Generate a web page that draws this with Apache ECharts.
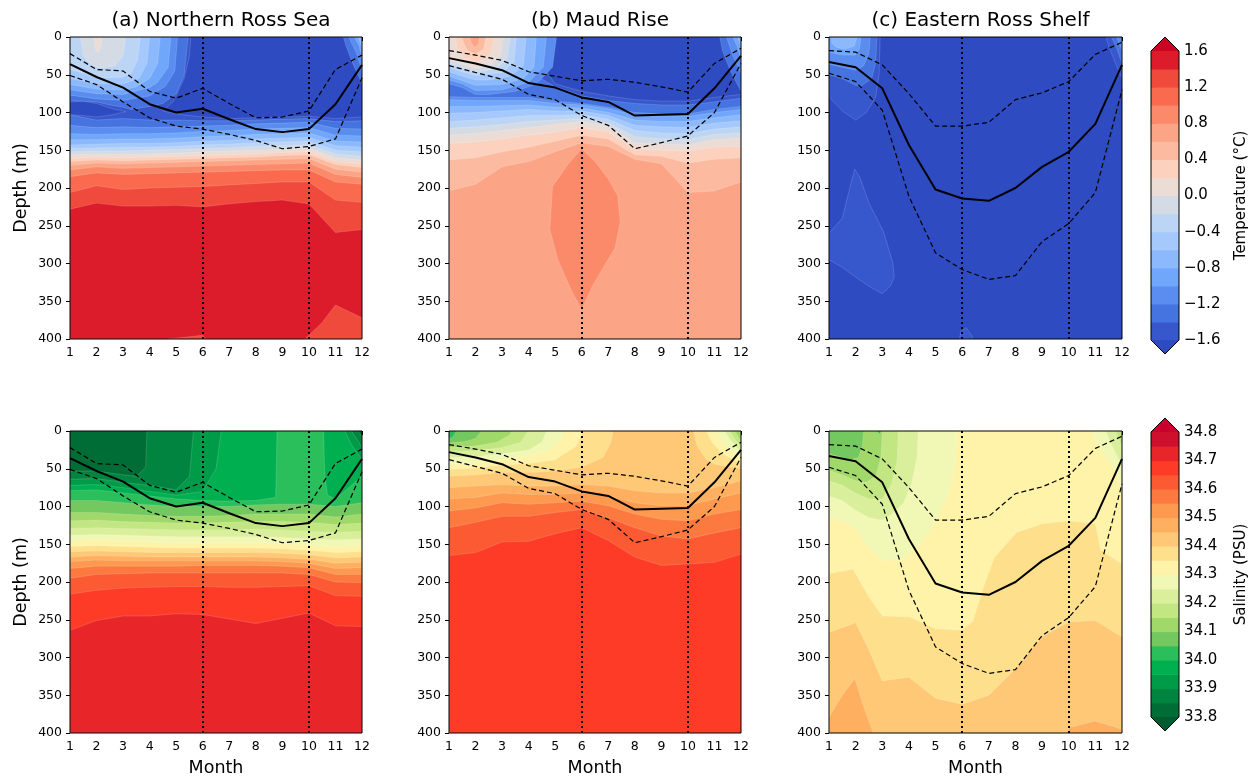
<!DOCTYPE html>
<html>
<head>
<meta charset="utf-8">
<script src="https://cdn.jsdelivr.net/npm/echarts/dist/echarts.min.js"></script>
<style>
  html, body { margin: 0; padding: 0; background: #ffffff; }
  #chart { width: 1249px; height: 778px; }
</style>
</head>
<body>
<div id="chart"></div>
<script>
// ---------------------------------------------------------------------------
// Axes and colour scales
// ---------------------------------------------------------------------------
const months = [1, 2, 3, 4, 5, 6, 7, 8, 9, 10, 11, 12];
const depthTicks = [0, 50, 100, 150, 200, 250, 300, 350, 400];

const tempLevels = [-1.6, -1.4, -1.2, -1.0, -0.8, -0.6, -0.4, -0.2, 0.0, 0.2, 0.4, 0.6, 0.8, 1.0, 1.2, 1.4, 1.6];
// under, 16 bands, over
const tempColors = ['#2e4bc2', '#3757cc', '#4573df', '#5a8def', '#70a7fa', '#8cb9fc', '#a5c9fc', '#bdd5f5',
  '#d4dbe4', '#ecdcd6', '#fcd1be', '#fcbba1', '#fca486', '#fb8a6a', '#fa6a4e', '#ef4a3c', '#dd1c2b', '#cc0423'];

const salLevels = [33.8, 33.85, 33.9, 33.95, 34.0, 34.05, 34.1, 34.15, 34.2, 34.25, 34.3,
  34.35, 34.4, 34.45, 34.5, 34.55, 34.6, 34.65, 34.7, 34.75, 34.8];
// under, 20 bands, over
const salColors = ['#005b2e', '#006d36', '#00843f', '#009b49', '#00b050', '#2bbf5c', '#74c860', '#a0d86a',
  '#c2e681', '#d9ef9b', '#f1f8b5', '#fef3a8', '#fee08c', '#fec877', '#feb060', '#fd9a50', '#fc7a40',
  '#fc5a32', '#fd3b27', '#e8262a', '#cf102c', '#c8002b'];

// ---------------------------------------------------------------------------
// Mixed-layer depth (m): monthly mean and upper / lower spread
// ---------------------------------------------------------------------------
const mldNRS      = [36, 53, 67, 89, 100, 95, 109, 122, 126, 122, 89, 37];
const mldNRSUpper = [22, 43, 45, 72, 81, 68, 88, 107, 106, 98, 43, 24];
const mldNRSLower = [51, 63, 86, 107, 118, 122, 129, 137, 148, 145, 135, 54];

const mldMR       = [28, 35, 44, 61, 67, 80, 86, 104, 103, 102, 68, 25];
const mldMRUpper  = [18, 24, 31, 46, 52, 58, 56, 60, 66, 73, 35, 15];
const mldMRLower  = [38, 47, 56, 76, 83, 104, 117, 148, 140, 131, 100, 35];

const mldERS      = [33, 40, 68, 143, 202, 214, 217, 200, 172, 152, 115, 37];
const mldERSUpper = [18, 20, 37, 75, 118, 118, 113, 83, 74, 59, 23, 7];
const mldERSLower = [48, 59, 97, 211, 286, 308, 321, 316, 271, 247, 206, 70];

const markerMonths = [6, 10];

// ---------------------------------------------------------------------------
// Filled contour regions (month, depth). Painted in order:
//   base  : value of the background band
//   ge    : region with value >= level   (deep: isoline depth per month, filled to 400 m)
//   lt    : region with value <  level
// ---------------------------------------------------------------------------
const tempNRS = [
  { base: -1.5 },
  { lt: -1.6, poly: [[5.55,0],[12,0],[12,106],[11,108],[10,105],[9,106],[8,107],[7,108],[6,106],[5,102],[4.5,98],[4.9,85],[5.3,55],[5.5,25]] },
  { lt: -1.6, poly: [[1,86],[1.5,85],[2,88],[2.6,95],[3.1,99],[2.6,103],[2,106],[1.5,104],[1,103]] },
  { ge: -1.4, deep: [103,110,108,110,110,111,111,110,109,108,112,111] },
  { ge: -1.2, deep: [117,120,119,120,119,118,117,115,114,113,121,122] },
  { ge: -1.0, deep: [128,129,128,128,127,125,124,122,121,120,130,131] },
  { ge: -0.8, deep: [136,136,135,135,134,132,131,129,128,127,138,139] },
  { ge: -0.6, deep: [143,142,141,141,140,138,137,135,134,133,144,146] },
  { ge: -0.4, deep: [147,147,146,146,145,143,142,140,139,138,150,152] },
  { ge: -0.2, deep: [152,151,151,150,149,148,147,145,144,143,155,158] },
  { ge: 0.0,  deep: [156,155,155,155,154,152,151,150,149,147,160,163] },
  { ge: 0.2,  deep: [161,159,160,159,158,157,156,155,153,152,165,168] },
  { ge: 0.4,  deep: [165,163,164,163,162,161,160,159,157,156,169,173] },
  { ge: 0.6,  deep: [170,167,168,167,166,165,164,163,162,161,175,179] },
  { ge: 0.8,  deep: [176,172,174,173,172,171,170,169,168,167,182,186] },
  { ge: 1.0,  deep: [185,180,182,181,180,179,178,177,176,176,192,195] },
  { ge: 1.2,  deep: [206,197,202,200,199,198,196,194,192,192,216,219] },
  { ge: 1.4,  deep: [228,220,224,224,223,225,221,218,216,221,259,255] },
  { ge: -1.4, poly: [[1,0],[5.45,0],[5.3,50],[5,75],[4.5,88],[4,92],[3.3,96],[3,93],[2.5,90],[2,86],[1,84]] },
  { ge: -1.2, poly: [[1,0],[5.05,0],[4.95,45],[4.6,65],[4,78],[3,84],[2,82],[1,77]] },
  { ge: -1.0, poly: [[1,0],[4.8,0],[4.7,40],[4.3,60],[4,67],[3,76],[2,75],[1,70]] },
  { ge: -0.8, poly: [[1,0],[4.4,0],[4.3,35],[4,55],[3.5,66],[3,70],[2,69],[1,63]] },
  { ge: -0.6, poly: [[1,0],[4,0],[3.9,35],[3.6,55],[3,62],[2,62],[1,55]] },
  { ge: -0.4, poly: [[1,0],[3.65,0],[3.55,30],[3.3,48],[3,53],[2.5,54],[2,53],[1.5,48],[1,43]] },
  { ge: -0.2, poly: [[1.4,0],[3.1,0],[3,25],[2.7,38],[2.2,41],[1.8,37],[1.5,25]] },
  { ge: 0.0,  poly: [[1.9,0],[2.22,0],[2.15,15],[2.05,21],[1.95,15]] },
  { ge: -1.4, poly: [[11.3,0],[12,0],[12,62],[11.65,35],[11.4,12]] },
  { ge: -1.2, poly: [[11.5,0],[12,0],[12,45],[11.8,22]] },
  { ge: -1.0, poly: [[11.7,0],[12,0],[12,28],[11.9,12]] },
  { ge: -0.8, poly: [[11.85,0],[12,0],[12,14]] },
  { lt: 1.4,  poly: [[9.85,400],[10.5,378],[11,355],[12,372],[12,400]] },
  { lt: 1.4,  poly: [[4.7,400],[5.5,397],[6,395],[6.1,400]] }
];

const tempMR = [
  { base: -1.5 },
  { lt: -1.6, poly: [[4.4,0],[12,0],[12,76],[11,80],[10,85],[9,85],[8,83],[7,78],[6,72],[5,62],[4.6,42],[4.45,20]] },
  { ge: -1.4, deep: [0,0,0,45,66,78,84,88,90,90,86,81] },
  { ge: -1.2, deep: [79,80,80,80,85,88,93,100,102,102,96,92] },
  { ge: -1.0, deep: [83,84,84,84,88,90,95,103,105,105,100,96] },
  { ge: -0.8, deep: [92,92,91,90,93,94,100,110,112,112,107,103] },
  { ge: -0.6, deep: [101,100,98,96,98,98,104,117,119,120,114,111] },
  { ge: -0.4, deep: [112,110,107,104,104,103,109,124,127,128,122,119] },
  { ge: -0.2, deep: [121,119,116,112,110,108,114,132,135,136,129,127] },
  { ge: 0.0,  deep: [130,128,124,120,116,112,118,140,142,143,136,134] },
  { ge: 0.2,  deep: [141,139,135,130,126,120,126,148,150,151,146,145] },
  { ge: 0.4,  deep: [163,160,152,146,138,130,135,156,158,167,162,160] },
  { ge: 0.6,  deep: [204,195,172,165,152,140,145,162,168,206,204,192] },
  { ge: 0.8,  poly: [[6,148],[5.5,168],[4.9,198],[4.8,255],[5.1,295],[5.6,335],[6,361],[6.4,330],[6.9,300],[7.25,280],[7.45,245],[7.35,210],[7,188],[6.5,165]] },
  { ge: -1.2, poly: [[1,0],[5.05,0],[4.9,40],[4.3,62],[3.5,72],[2.5,76],[2,76],[1.5,67],[1,62]] },
  { ge: -1.0, poly: [[1,0],[4.67,0],[4.55,40],[4,60],[3,70],[2,71],[1.5,62],[1,57]] },
  { ge: -0.8, poly: [[1,0],[4.29,0],[4.2,40],[3.8,55],[3,63],[2,64],[1.5,58],[1,52]] },
  { ge: -0.6, poly: [[1,0],[3.91,0],[3.8,38],[3.3,52],[2.5,57],[2,57],[1.5,52],[1,46]] },
  { ge: -0.4, poly: [[1,0],[3.54,0],[3.45,33],[3,47],[2,51],[1.5,46],[1,40]] },
  { ge: -0.2, poly: [[1,0],[3.3,0],[3.2,28],[2.8,42],[2,47],[1.5,41],[1,35]] },
  { ge: 0.0,  poly: [[1,0],[3.03,0],[2.95,24],[2.6,36],[2,42],[1.5,36],[1,30]] },
  { ge: 0.2,  poly: [[1.25,0],[2.7,0],[2.6,20],[2.3,30],[2,33],[1.6,28],[1.3,15]] },
  { ge: 0.4,  poly: [[1.5,0],[2.4,0],[2.3,16],[2,23],[1.7,18],[1.55,8]] },
  { ge: 0.6,  poly: [[1.78,0],[2.16,0],[2.1,10],[1.97,14],[1.84,8]] },
  { ge: -1.4, poly: [[11.2,0],[12,0],[12,72],[11.6,45],[11.3,18]] },
  { ge: -1.2, poly: [[11.45,0],[12,0],[12,48],[11.7,25]] },
  { ge: -1.0, poly: [[11.7,0],[12,0],[12,28],[11.85,12]] },
  { ge: -0.8, poly: [[11.88,0],[12,0],[12,12]] }
];

const tempERS = [
  { base: -1.7 },
  { ge: -1.6, poly: [[1,260],[1.5,240],[1.85,190],[1.97,175],[2.15,185],[2.5,220],[3.05,258],[3.4,300],[3.45,318],[3.3,330],[3,340],[2.5,330],[2,318],[1.5,305],[1,295]] },
  { ge: -1.6, poly: [[5.9,400],[5.95,390],[6.15,385],[6.35,395],[6.4,400]] },
  { ge: -1.6, poly: [[1,0],[2.92,0],[2.88,50],[2.75,80],[2.4,100],[2,110],[1.5,98],[1,79]] },
  { ge: -1.4, poly: [[1,0],[2.8,0],[2.75,35],[2.6,55],[2.2,65],[2,64],[1.5,55],[1,50]] },
  { ge: -1.2, poly: [[1,0],[2.55,0],[2.5,22],[2.3,38],[2,44],[1.5,40],[1,36]] },
  { ge: -1.0, poly: [[1,0],[2.2,0],[2.15,15],[2,24],[1.5,24],[1,20]] },
  { ge: -0.8, poly: [[1.1,0],[2.05,0],[1.95,12],[1.6,16],[1.3,14],[1.1,8]] },
  { ge: -1.6, poly: [[11.4,0],[12,0],[12,55],[11.7,30],[11.5,12]] },
  { ge: -1.4, poly: [[11.6,0],[12,0],[12,35],[11.8,15]] },
  { ge: -1.2, poly: [[11.8,0],[12,0],[12,18]] }
];

const salNRS = [
  { base: 33.825 },
  { ge: 33.85, deep: [[1,53],[2,53],[3,58],[3.5,60],[3.85,48],[3.9,0],[11.85,0],[12,8]] },
  { ge: 33.9,  deep: [[1,64],[2,63],[3,68],[4,72],[5,78],[5.5,60],[5.65,0],[11.6,0],[11.8,10],[12,22]] },
  { ge: 33.95, deep: [[1,72],[2,71],[3,75],[4,80],[5,85],[6,80],[6.5,50],[6.7,0],[11.35,0],[11.6,18],[12,38]] },
  { ge: 34.0,  deep: [[1,79],[2,78],[3,82],[4,86],[5,90],[6,92],[7,93],[8,92],[8.75,88],[8.8,0],[10.55,0],[10.6,60],[10.7,85],[11,90],[12,60]] },
  { ge: 34.05, deep: [92,92,95,98,100,100,100,98,97,97,100,95] },
  { ge: 34.1,  deep: [108,108,110,112,113,113,112,110,110,110,114,110] },
  { ge: 34.15, deep: [119,118,120,121,122,122,121,120,120,121,124,122] },
  { ge: 34.2,  deep: [129,128,129,130,131,131,131,130,131,133,134,133] },
  { ge: 34.25, deep: [138,137,138,139,140,140,140,140,141,143,144,143] },
  { ge: 34.3,  deep: [146,145,146,147,148,148,148,148,149,151,153,152] },
  { ge: 34.35, deep: [153,152,153,154,155,155,155,155,156,158,161,160] },
  { ge: 34.4,  deep: [160,159,160,161,161,161,161,161,162,164,168,167] },
  { ge: 34.45, deep: [167,165,166,167,167,167,167,167,168,170,175,174] },
  { ge: 34.5,  deep: [173,171,172,172,172,172,172,172,173,175,182,181] },
  { ge: 34.55, deep: [182,179,179,179,179,178,178,178,179,181,190,190] },
  { ge: 34.6,  deep: [195,190,189,188,188,188,188,188,188,190,200,201] },
  { ge: 34.65, deep: [216,211,208,207,206,206,207,207,206,205,218,219] },
  { ge: 34.7,  deep: [264,251,245,245,242,243,249,255,248,241,258,259] }
];

const salMR = [
  { base: 34.025 },
  { ge: 34.05, deep: [[1,10],[1.15,8],[1.28,0],[12,0]] },
  { ge: 34.1,  deep: [[1,16],[1.6,14],[2,10],[2.22,0],[11.96,0],[12,3]] },
  { ge: 34.15, deep: [[1,22],[2,20],[2.8,15],[3.3,5],[3.35,0],[11.77,0],[11.9,8],[12,12]] },
  { ge: 34.2,  deep: [[1,27],[2,26],[3,22],[3.7,15],[3.98,0],[11.58,0],[11.75,10],[12,20]] },
  { ge: 34.25, deep: [[1,35],[2,34],[3,30],[4,25],[4.5,15],[4.67,0],[11.39,0],[11.6,12],[12,28]] },
  { ge: 34.3,  deep: [[1,44],[2,42],[3,38],[4,33],[4.8,25],[5.25,10],[5.3,0],[11.07,0],[11.3,15],[11.7,28],[12,36]] },
  { ge: 34.35, deep: [[1,51],[2,49],[3,45],[4,43],[5,38],[5.8,20],[6.05,0],[10.7,0],[10.9,15],[11.3,30],[12,43]] },
  { ge: 34.4,  deep: [[1,60],[2,58],[3,55],[4,55],[5,53],[6,48],[6.8,35],[7.1,15],[7.18,0],[10.2,0],[10.35,20],[10.7,38],[11,44],[12,50]] },
  { ge: 34.45, deep: [75,73,71,73,73,71,73,79,82,82,75,66] },
  { ge: 34.5,  deep: [90,88,82,84,84,82,86,95,99,99,90,82] },
  { ge: 34.55, deep: [106,102,95,97,95,93,99,110,117,119,110,104] },
  { ge: 34.6,  deep: [128,121,113,113,108,104,115,128,139,143,135,128] },
  { ge: 34.65, deep: [165,161,147,146,136,128,145,167,178,176,174,163] }
];

const salERS = [
  { base: 34.325 },
  { lt: 34.3,  poly: [[1,0],[5.8,0],[5.75,40],[5.5,80],[5,120],[4.4,150],[3.8,170],[3,172],[2.4,150],[1.9,125],[1.4,118],[1,117]] },
  { lt: 34.25, poly: [[1,0],[4.35,0],[4.3,35],[4.1,70],[3.8,95],[3.3,112],[3,118],[2.5,115],[2,105],[1.5,92],[1,86]] },
  { lt: 34.2,  poly: [[1,0],[3.6,0],[3.55,40],[3.35,70],[3,90],[2.5,90],[2,82],[1.5,72],[1,66]] },
  { lt: 34.15, poly: [[1,0],[3,0],[2.95,35],[2.75,60],[2.4,68],[2,66],[1.5,58],[1,52]] },
  { lt: 34.1,  poly: [[1,0],[2.3,0],[2.25,20],[2.1,35],[1.8,38],[1.5,35],[1,30]] },
  { lt: 34.05, poly: [[2.8,0],[2.95,0],[2.9,4]] },
  { lt: 34.3,  poly: [[10.9,0],[12,0],[12,75],[11.7,50],[11.3,30],[11,12]] },
  { lt: 34.25, poly: [[11.4,0],[12,0],[12,45],[11.7,25],[11.5,10]] },
  { lt: 34.2,  poly: [[11.75,0],[12,0],[12,20],[11.85,8]] },
  { ge: 34.35, deep: [[1,189],[1.9,183],[2.5,220],[3,245],[4,246],[5,262],[6,264],[6.4,252],[6.8,207],[7.2,168],[8.05,134],[9,123],[10,119],[11,123],[11.2,158],[12,176]] },
  { ge: 34.4,  deep: [[1,267],[2,254],[2.5,290],[3,331],[4,326],[5,354],[6,362],[7,350],[8,315],[9,273],[10,253],[11,251],[12,273]] },
  { ge: 34.45, poly: [[1,400],[1,379],[1.5,350],[1.97,328],[2.3,365],[2.66,400]] },
  { ge: 34.45, poly: [[10,400],[10,393],[11,384],[12,395],[12,400]] }
];

const panelTitles = ['(a) Northern Ross Sea', '(b) Maud Rise', '(c) Eastern Ross Shelf'];

// ---------------------------------------------------------------------------
// Layout
// ---------------------------------------------------------------------------
const plotLefts = [70, 449, 829];
const plotWidths = [292, 292, 293];
const rowTops = [37, 431];
const plotHeight = 302;

const panels = [
  { shapes: tempNRS, levels: tempLevels, colors: tempColors, mld: [mldNRS, mldNRSUpper, mldNRSLower] },
  { shapes: tempMR,  levels: tempLevels, colors: tempColors, mld: [mldMR, mldMRUpper, mldMRLower] },
  { shapes: tempERS, levels: tempLevels, colors: tempColors, mld: [mldERS, mldERSUpper, mldERSLower] },
  { shapes: salNRS,  levels: salLevels,  colors: salColors,  mld: [mldNRS, mldNRSUpper, mldNRSLower] },
  { shapes: salMR,   levels: salLevels,  colors: salColors,  mld: [mldMR, mldMRUpper, mldMRLower] },
  { shapes: salERS,  levels: salLevels,  colors: salColors,  mld: [mldERS, mldERSUpper, mldERSLower] }
];

function levelIndex(levels, v) {
  for (let i = 0; i < levels.length; i++) if (Math.abs(levels[i] - v) < 1e-6) return i;
  return -1;
}
function bandOf(levels, v) {
  let i = 0;
  while (i < levels.length && v >= levels[i] - 1e-9) i++;
  return i;
}
function shapeColor(p, s) {
  if (s.base !== undefined) return p.colors[bandOf(p.levels, s.base)];
  if (s.ge !== undefined) return p.colors[levelIndex(p.levels, s.ge) + 1];
  return p.colors[levelIndex(p.levels, s.lt)];
}
function toPairs(line) {
  if (typeof line[0] === 'number') return line.map((d, i) => [months[i], d]);
  return line;
}
function shapePoints(s) {
  if (s.base !== undefined) return [[1, 0], [12, 0], [12, 400], [1, 400]];
  if (s.deep) return toPairs(s.deep).concat([[12, 400], [1, 400]]);
  return s.poly;
}

const FONT = 'DejaVu Sans';
const grids = [], xAxes = [], yAxes = [], series = [];

panels.forEach((p, gi) => {
  const col = gi % 3, row = Math.floor(gi / 3);
  grids.push({ left: plotLefts[col], top: rowTops[row], width: plotWidths[col], height: plotHeight,
    containLabel: false, outerBoundsMode: 'none' });
  xAxes.push({
    gridIndex: gi, type: 'value', min: 1, max: 12, interval: 1,
    axisLine: { show: false }, splitLine: { show: false },
    axisTick: { show: true, length: 4, lineStyle: { color: '#000', width: 1 } },
    axisLabel: { fontSize: 12.5, color: '#000', margin: 7, fontFamily: FONT },
    name: row === 1 ? 'Month' : '', nameLocation: 'middle', nameGap: 26,
    nameTextStyle: { fontSize: 17.5, color: '#000', fontFamily: FONT }
  });
  yAxes.push({
    gridIndex: gi, type: 'value', min: 0, max: 400, interval: 50, inverse: true,
    axisLine: { show: false }, splitLine: { show: false },
    axisTick: { show: true, length: 4, lineStyle: { color: '#000', width: 1 } },
    axisLabel: { fontSize: 12.5, color: '#000', margin: 8, fontFamily: FONT },
    name: col === 0 ? 'Depth (m)' : '', nameLocation: 'middle', nameGap: 40, nameRotate: 90,
    nameTextStyle: { fontSize: 17.5, color: '#000', fontFamily: FONT }
  });

  // filled contour bands
  series.push({
    type: 'custom', xAxisIndex: gi, yAxisIndex: gi, clip: true, silent: true, z: 1,
    data: p.shapes.map(() => [1, 0]),
    renderItem: function (params, api) {
      const s = p.shapes[params.dataIndex];
      const pts = shapePoints(s).map(q => api.coord(q));
      return {
        type: 'polygon', shape: { points: pts },
        style: {
          fill: shapeColor(p, s),
          stroke: s.base !== undefined ? null : 'rgba(255,255,255,0.22)',
          lineWidth: 0.7
        }
      };
    }
  });

  // mixed-layer depth lines
  const mk = (arr) => arr.map((d, i) => [months[i], d]);
  series.push({
    type: 'line', xAxisIndex: gi, yAxisIndex: gi, data: mk(p.mld[0]), symbol: 'none', silent: true, z: 5,
    lineStyle: { color: '#000', width: 2 },
    markLine: {
      silent: true, symbol: ['none', 'none'], label: { show: false },
      lineStyle: { color: '#000', width: 2, type: [2, 3] },
      data: markerMonths.map(m => ({ xAxis: m }))
    }
  });
  series.push({
    type: 'line', xAxisIndex: gi, yAxisIndex: gi, data: mk(p.mld[1]), symbol: 'none', silent: true, z: 5,
    lineStyle: { color: '#000', width: 1.2, type: [5, 3] }
  });
  series.push({
    type: 'line', xAxisIndex: gi, yAxisIndex: gi, data: mk(p.mld[2]), symbol: 'none', silent: true, z: 5,
    lineStyle: { color: '#000', width: 1.2, type: [5, 3] }
  });

  // panel frame
  series.push({
    type: 'custom', xAxisIndex: gi, yAxisIndex: gi, silent: true, z: 10, data: [[1, 0]],
    renderItem: function (params, api) {
      const a = api.coord([1, 0]), b = api.coord([12, 400]);
      return { type: 'rect', shape: { x: a[0], y: a[1], width: b[0] - a[0], height: b[1] - a[1] },
        style: { fill: 'none', stroke: '#000', lineWidth: 1 } };
    }
  });
});

// ---------------------------------------------------------------------------
// Colour bars
// ---------------------------------------------------------------------------
function addColorbar(top, height, levels, colors, step, label) {
  const gi = grids.length;
  const n = levels.length;
  grids.push({ left: 1151, top: top, width: 28, height: height, containLabel: false, outerBoundsMode: 'none' });
  xAxes.push({ gridIndex: gi, type: 'value', min: 0, max: 1, show: false });
  yAxes.push({
    gridIndex: gi, type: 'value', position: 'right', min: levels[0], max: levels[n - 1], interval: step,
    axisLine: { show: false }, splitLine: { show: false },
    axisTick: { show: true, length: 4, lineStyle: { color: '#000', width: 1 } },
    axisLabel: { fontSize: 15, color: '#000', margin: 5, fontFamily: FONT,
      formatter: v => v.toFixed(1).replace('-', '\u2212') },
    name: label, nameLocation: 'middle', nameGap: 55, nameRotate: 90,
    nameTextStyle: { fontSize: 15, color: '#000', fontFamily: FONT }
  });
  const items = [];
  for (let i = 1; i < n; i++) items.push([0.5, (levels[i - 1] + levels[i]) / 2]);
  items.push([0.5, levels[0]]);
  series.push({
    type: 'custom', xAxisIndex: gi, yAxisIndex: gi, silent: true, clip: false, z: 2,
    data: items,
    renderItem: function (params, api) {
      const k = params.dataIndex;
      const tl = api.coord([0, levels[n - 1]]), br = api.coord([1, levels[0]]);
      const ext = 14, cx = (tl[0] + br[0]) / 2;
      if (k < n - 1) {
        const a = api.coord([0, levels[k + 1]]), b = api.coord([1, levels[k]]);
        return { type: 'rect', shape: { x: a[0], y: a[1], width: b[0] - a[0], height: b[1] - a[1] + 0.6 },
          style: { fill: colors[k + 1] } };
      }
      return { type: 'group', children: [
        { type: 'polygon', shape: { points: [[tl[0], tl[1]], [cx, tl[1] - ext], [br[0], tl[1]]] }, style: { fill: colors[n] } },
        { type: 'polygon', shape: { points: [[tl[0], br[1]], [cx, br[1] + ext], [br[0], br[1]]] }, style: { fill: colors[0] } },
        { type: 'polygon', shape: { points: [[tl[0], tl[1]], [cx, tl[1] - ext], [br[0], tl[1]], [br[0], br[1]], [cx, br[1] + ext], [tl[0], br[1]]] },
          style: { fill: 'none', stroke: '#000', lineWidth: 1 } }
      ] };
    }
  });
}
addColorbar(51, 289, tempLevels, tempColors, 0.4, 'Temperature (\u00b0C)');
addColorbar(432, 285, salLevels, salColors, 0.1, 'Salinity (PSU)');

const titles = panelTitles.map((t, i) => ({
  text: t, left: plotLefts[i] + plotWidths[i] / 2, top: 6, textAlign: 'center',
  textStyle: { fontSize: 20, fontWeight: 'normal', color: '#000', fontFamily: FONT }
}));

const chart = echarts.init(document.getElementById('chart'), null, { renderer: 'canvas' });
chart.setOption({
  animation: false,
  backgroundColor: '#ffffff',
  textStyle: { fontFamily: FONT },
  title: titles,
  grid: grids,
  xAxis: xAxes,
  yAxis: yAxes,
  series: series
});
</script>
</body>
</html>
